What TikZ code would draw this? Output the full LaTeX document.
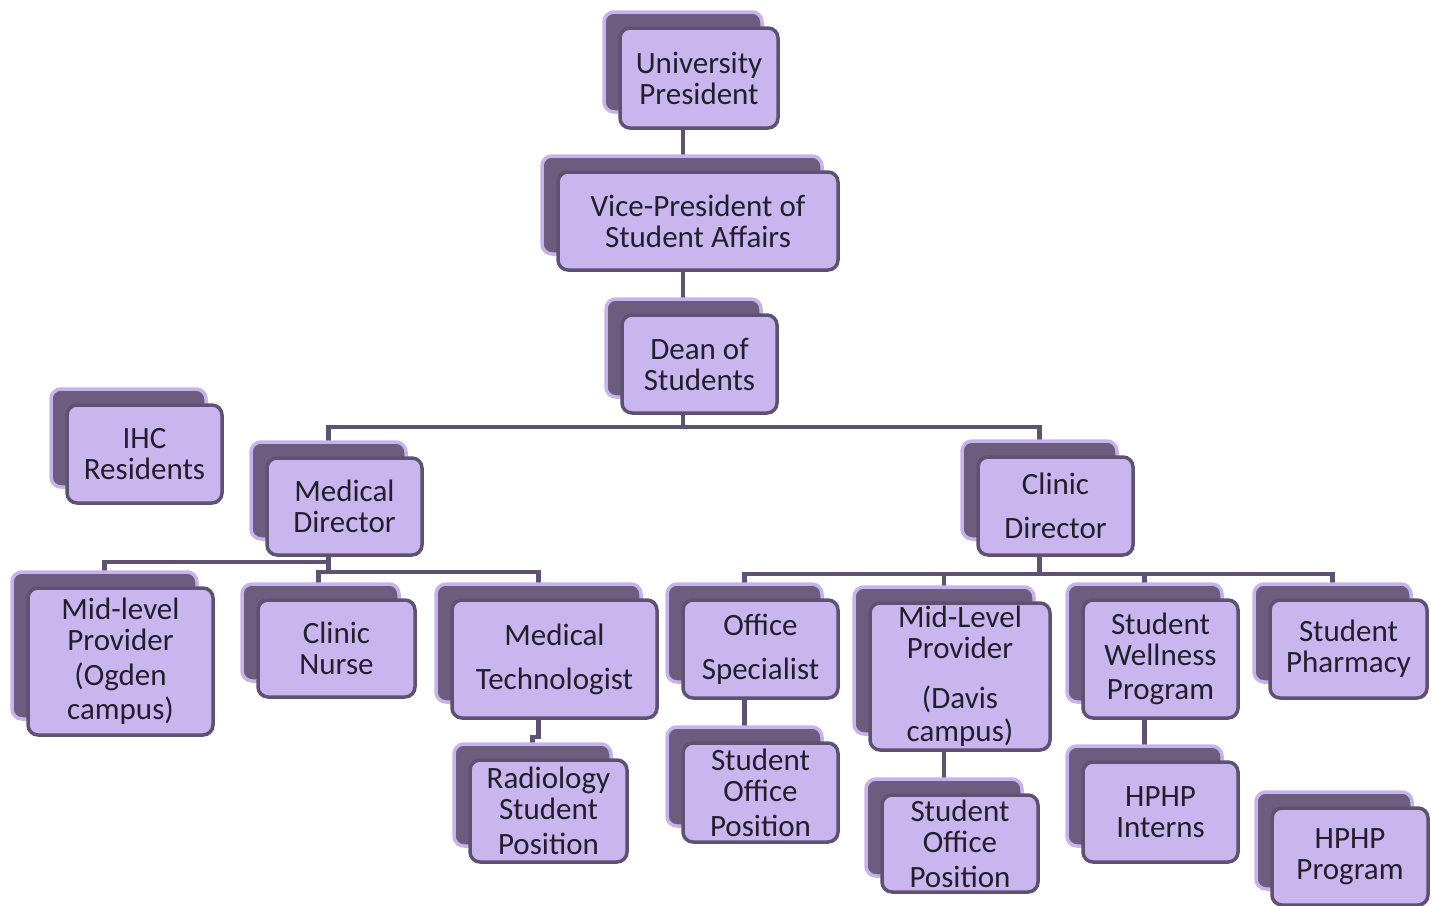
\documentclass[tikz,border=0pt]{standalone}
\usepackage{fontspec}
\setmainfont{Carlito}
\usetikzlibrary{shadows, backgrounds, positioning}
\definecolor{cardfill}{RGB}{201,182,238}
\definecolor{cardline}{RGB}{95,81,113}
\definecolor{backfill}{RGB}{108,92,126}
\definecolor{backrim}{RGB}{199,178,238}
\definecolor{cardtext}{RGB}{35,29,44}
\newcommand{\cardfont}{\fontsize{31}{31}\selectfont}
\tikzset{
  card/.style={rectangle, draw=cardline, fill=cardfill, line width=3.5pt,
    rounded corners=10pt, align=center, text=cardtext, font=\cardfont,
    inner sep=0pt, minimum width=155pt, minimum height=98pt,
    general shadow={shadow xshift=-16pt, shadow yshift=16pt,
      fill=backfill, draw=backrim, line width=3.5pt}},
  link/.style={draw=cardline, line width=4.5pt}
}
\begin{document}
\begin{tikzpicture}[x=1pt, y=-1pt]
  \useasboundingbox (0,0) rectangle (1431,905);

  % top of the chart
  \node[card, minimum width=158pt, minimum height=100pt] (up) at (699,78) {University\\President};
  \node[card, minimum width=280pt] (vp) at (698,221) {Vice-President of\\Student Affairs};
  \node[card] (dean) at (699.5,364) {Dean of\\Students};
  \node[card] (ihc) at (144.5,454) {IHC\\Residents};
  \node[card, minimum height=97pt] (md) at (344.5,506.5) {Medical\\Director};
  \node[card] (cd) at (1055.5,506) {Clinic\\[13pt]Director};

  % medical director branch
  \node[card, minimum width=185pt, minimum height=147pt] (ogden) at (120.5,661.5) {Mid-level\\Provider\\[4pt](Ogden\\[3pt]campus)};
  \node[card, minimum width=157pt, minimum height=97pt] (nurse) at (336.5,648.5) {Clinic\\Nurse};
  \node[card, minimum width=205pt, minimum height=118pt] (medtech) at (554.5,659) {Medical\\[13pt]Technologist};
  \node[card, minimum width=157pt, minimum height=102pt] (radio) at (548.5,811) {Radiology\\Student\\[4pt]Position};

  % clinic director branch
  \node[card] (office) at (760.5,649) {Office\\[13pt]Specialist};
  \node[card, minimum height=99pt] (sopa) at (760.5,792.5) {Student\\Office\\[4pt]Position};
  \node[card, minimum width=180pt, minimum height=147pt] (davis) at (960,676.5) {Mid-Level\\Provider\\[19pt](Davis\\[2pt]campus)};
  \node[card, minimum width=156pt, minimum height=97pt] (sopb) at (960,843.5) {Student\\Office\\[4pt]Position};
  \node[card, minimum height=118pt] (wellness) at (1160.5,659) {Student\\Wellness\\[3pt]Program};
  \node[card, minimum width=157pt] (pharmacy) at (1348.5,649) {Student\\Pharmacy};
  \node[card, minimum height=100pt] (interns) at (1160.5,812) {HPHP\\Interns};
  \node[card, minimum width=156pt, minimum height=97pt] (hphp) at (1350,856.5) {HPHP\\Program};

  % connectors
  \begin{scope}[on background layer]
    \draw[link] ([xshift=-16pt]up.south) -- ([xshift=-16pt]up.south |- vp.north);
    \draw[link] ([xshift=-16pt]up.south |- vp.south) -- ([xshift=-16pt]up.south |- dean.north);
    \draw[link] ([xshift=-16pt]up.south |- dean.south) -- ++(0,12) coordinate (deanbus);
    \draw[link] (deanbus) -| ([xshift=-16pt]md.north);
    \draw[link] (deanbus) -| ([xshift=-16pt]cd.north);

    \draw[link] ([xshift=-16pt]md.south) -- ++(0,5) -| ([xshift=-16pt]ogden.north);
    \draw[link] ([xshift=-16pt]md.south) -- ++(0,15) coordinate (mdbus);
    \draw[link] ([xshift=-18pt]nurse.north) |- (mdbus) -| ([xshift=-16pt]medtech.north);
    \draw[link] ([xshift=-16pt]medtech.south) -- ++(0,17) -| ([xshift=-16pt]radio.north);

    \draw[link] ([xshift=-16pt]cd.south) -- ++(0,17) coordinate (cdbus);
    \foreach \n in {office, davis, wellness, pharmacy}
      \draw[link] (cdbus) -| ([xshift=-16pt]\n.north);
    \draw[link] ([xshift=-16pt]office.south) -- ([xshift=-16pt]sopa.north);
    \draw[link] ([xshift=-16pt]davis.south) -- ([xshift=-16pt]sopb.north);
    \draw[link] ([xshift=-16pt]wellness.south) -- ([xshift=-16pt]interns.north);
  \end{scope}
\end{tikzpicture}
\end{document}
